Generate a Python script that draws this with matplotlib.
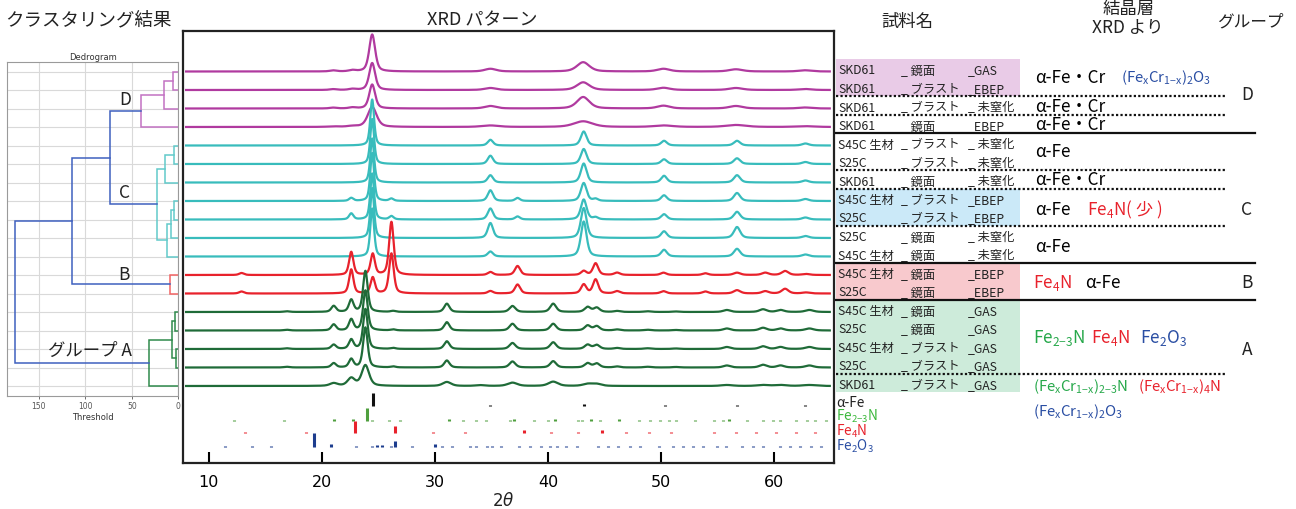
import numpy as np
import matplotlib
matplotlib.use("Agg")
import matplotlib.pyplot as plt
from matplotlib.patches import Rectangle

plt.rcParams['font.family'] = ['Noto Sans CJK JP', 'DejaVu Sans']
plt.rcParams['mathtext.default'] = 'regular'

W, H = 1296, 510

# ---------------- data ----------------
# sample names, top to bottom (same order as the stacked patterns)
MATERIAL = ['SKD61', 'SKD61', 'SKD61', 'SKD61',
            'S45C 生材', 'S25C', 'SKD61', 'S45C 生材', 'S25C', 'S25C', 'S45C 生材',
            'S45C 生材', 'S25C',
            'S45C 生材', 'S25C', 'S45C 生材', 'S25C', 'SKD61']
SURFACE = ['_ 鏡面', '_ ブラスト', '_ ブラスト', '_ 鏡面',
           '_ ブラスト', '_ ブラスト', '_ 鏡面', '_ ブラスト', '_ ブラスト', '_ 鏡面', '_ 鏡面',
           '_ 鏡面', '_ 鏡面',
           '_ 鏡面', '_ 鏡面', '_ ブラスト', '_ ブラスト', '_ ブラスト']
TREATMENT = ['_GAS', '_EBEP', '_ 未窒化', '_EBEP',
             '_ 未窒化', '_ 未窒化', '_ 未窒化', '_EBEP', '_EBEP', '_ 未窒化', '_ 未窒化',
             '_EBEP', '_EBEP',
             '_GAS', '_GAS', '_GAS', '_GAS', '_GAS']
GROUPS = ['D', 'C', 'B', 'A']
GROUP_SIZE = [4, 7, 2, 5]

# peak tables (2theta, FWHM, heights per sample)
D_POS = [21.0, 22.7, 24.45, 34.9, 43.1, 50.2, 56.6, 62.7]
D_WID = [0.7, 0.7, 0.62, 1.2, 1.3, 1.3, 1.4, 1.3]
D_HEIGHT = [[1.0, 1.2, 37, 2.7, 9.3, 2.7, 2.2, 1.2],
            [0.8, 1.0, 27, 2.0, 7.7, 2.2, 2.0, 1.0],
            [0.8, 1.0, 24, 2.5, 11.5, 2.8, 2.5, 1.0],
            [0.5, 0.8, 20, 1.5, 5.7, 1.5, 2.0, 0.8]]
D_BROAD = [1.0, 1.0, 1.0, 1.5]

C_POS = [22.6, 24.45, 26.15, 34.9, 37.3, 43.15, 44.2, 50.25, 56.7, 62.75]
C_WID = [0.45, 0.4, 0.45, 0.55, 0.5, 0.6, 0.5, 0.6, 0.65, 0.7]
C_HEIGHT = [[0, 46, 0, 5.7, 0, 14, 0, 4.7, 4.7, 2],
            [0, 45, 0, 8.3, 0, 15, 0, 4.7, 5.7, 2],
            [0, 44, 0, 7.3, 0, 19, 0, 6.7, 7.3, 2],
            [3, 48, 2.3, 10.7, 3, 18, 2, 5.7, 8, 2],
            [6, 46, 3.3, 11, 3, 20, 2, 5.3, 7.7, 2],
            [0, 50, 0, 15, 0, 30, 0, 6.7, 11, 2],
            [0, 48, 0, 5, 0, 35, 0, 6.7, 7.7, 2]]
C_BROAD = [1.0] * 7

B_POS = [12.9, 22.6, 24.5, 26.15, 34.9, 37.3, 43.15, 44.2, 46.1, 50.2, 53.9, 56.7, 59.2, 60.95, 62.8]
B_WID = [0.5, 0.45, 0.45, 0.48, 0.55, 0.55, 0.55, 0.55, 0.6, 0.6, 0.6, 0.7, 0.7, 0.7, 0.75]
B_HEIGHT = [[2, 23, 21, 53, 3, 9, 4, 11.7, 2.3, 2.3, 1.7, 2.3, 2.3, 4, 1],
            [2, 24, 16, 40, 2.5, 9, 9, 14, 2.3, 2.3, 2, 3.3, 2.3, 4.7, 1]]
B_BROAD = [1.0, 1.0]

A_POS = [16.9, 21.05, 22.6, 23.85, 26.3, 31.05, 34.0, 36.85, 40.45, 43.5, 44.3,
         46.1, 48.8, 51.3, 55.8, 59.0, 60.55, 63.1]
A_WID = [0.6, 0.5, 0.48, 0.48, 0.5, 0.55, 0.6, 0.62, 0.62, 0.62, 0.62,
         0.62, 0.75, 0.75, 0.75, 0.75, 0.75, 0.85]
A_HEIGHT = [[0.7, 6, 12, 41, 1, 8.3, 0, 6, 8.3, 5, 4.3, 1, 0.7, 0.5, 2, 2.7, 2, 2],
            [0.7, 6, 11, 40, 1, 8.3, 0, 6.7, 6.7, 5, 4.3, 1, 0.7, 0.5, 2, 2.7, 2, 2],
            [0.7, 4.3, 9.3, 40, 1, 7.7, 0, 6, 6.7, 4.3, 4, 1, 0.7, 0.5, 2, 2.7, 2, 2],
            [0.7, 4.3, 8.3, 40, 1, 7, 0, 6, 6.3, 4.3, 4, 1, 0.7, 0.5, 2, 2.7, 2, 2],
            [0, 2.7, 7.7, 20.7, 0, 4, 0.8, 3.3, 4.3, 2, 2, 0, 0, 0, 1, 1, 1, 1]]
A_BROAD = [1.0, 1.0, 1.0, 1.0, 1.6]

# reference patterns (stick positions and relative heights)
ALPHA_FE_POS = [24.5, 34.9, 43.2, 50.3, 56.7, 62.7]
ALPHA_FE_H = [13, 1.2, 2.5, 1.2, 1.2, 1.2]
FE23N_POS = [12.2, 16.65, 21.1, 22.75, 24.0, 24.45, 25.9, 26.95, 31.2, 32.45, 33.6, 34.5,
             36.6, 37.0, 38.75, 39.95, 40.6, 42.6, 43.0, 43.8, 44.6, 46.3, 48.05, 49.0,
             49.9, 50.7, 51.35, 53.0, 54.7, 55.45, 56.0, 57.55, 59.0, 59.9, 60.5, 61.95,
             62.85, 63.6, 64.6]
FE23N_H = [1.2, 1.2, 2, 2, 13, 1.2, 1.2, 1.2, 2, 1.2, 1.2, 1.2,
           1.2, 2, 1.2, 1.2, 2, 1.2, 1.2, 2, 1.2, 2, 1.2, 1.2,
           1.2, 1.2, 1.2, 1.2, 1.2, 1.2, 2, 1.2, 1.2, 1.2, 1.2, 1.2,
           1.2, 1.2, 1.2]
FE4N_POS = [13.2, 18.6, 22.9, 26.5, 29.8, 32.65, 37.9, 40.3, 42.6, 44.8, 46.9, 48.95,
            50.9, 54.7, 56.6, 58.35, 60.15, 61.9, 63.6]
FE4N_H = [1.2, 1.2, 12, 7, 1.2, 1.2, 3, 1.2, 1.2, 3, 1.2, 1.2,
          1.2, 1.2, 1.2, 1.2, 1.2, 1.2, 1.2]
FE2O3_POS = [11.4, 13.8, 15.5, 19.3, 20.85, 23.05, 24.4, 24.9, 25.35, 26.15, 26.5, 27.95,
             29.96, 30.6, 31.5, 33.1, 33.6, 34.6, 35.05, 35.8, 37.4, 38.4, 39.35, 40.2,
             40.8, 41.55, 42.55, 44.4, 45.3, 46.2, 47.2, 48.1, 49.8, 51.05, 51.9, 52.8,
             53.7, 54.9, 55.75, 57.1, 58.1, 59.0, 60.5, 61.4, 62.3, 63.2, 64.1]
FE2O3_H = [1.2, 1.2, 1.2, 14, 3, 1.2, 1.2, 1.8, 1.8, 1.2, 6, 1.2,
           3, 1.2, 1.2, 1.2, 1.2, 1.2, 1.2, 1.2, 1.2, 1.2, 1.2, 1.2,
           1.2, 1.2, 1.2, 1.2, 1.2, 1.2, 1.2, 1.2, 1.2, 1.2, 1.2, 1.2,
           1.2, 1.2, 1.2, 1.2, 1.2, 1.2, 1.2, 1.2, 1.2, 1.2, 1.2]

# dendrogram merges: (left node, right node, threshold); leaves are 0..17
LINK_LEFT = [0, 18, 19, 4, 21, 7, 23, 24, 22, 20, 11, 27, 13, 15, 30, 32, 29]
LINK_RIGHT = [1, 2, 3, 5, 6, 8, 9, 10, 25, 26, 12, 28, 14, 16, 31, 17, 33]
LINK_HEIGHT = [6.0, 15.4, 39.8, 5.0, 14.3, 4.6, 7.5, 11.8, 22.9, 73.4, 8.9, 114.6,
               3.5, 2.8, 7.1, 31.8, 175.6]
LINK_GROUP = ['D', 'D', 'D', 'C', 'C', 'C', 'C', 'C', 'C', '-', 'B', '-',
              'A', 'A', 'A', 'A', '-']

# ---------------- styling ----------------
TRACE_COLOR = {'D': '#b03a9f', 'C': '#38bcbc', 'B': '#e8222c', 'A': '#1f6b38'}
DENDRO_COLOR = {'D': '#c272c2', 'C': '#62caca', 'B': '#f26464', 'A': '#2f8a4c', '-': '#3f60bf'}
GREEN_TXT, RED_TXT, BLUE_TXT = '#26a84a', '#e8222c', '#2a4ea3'
STEP = 18.5          # vertical offset between stacked patterns
Y0 = 72.5            # pixel row of the first baseline


def Y(p):
    # convert a pixel row of the 1296x510 canvas to the shared y scale
    return Y0 - p


def rect(x0, y0, x1, y1):
    return [x0 / W, 1 - y1 / H, (x1 - x0) / W, (y1 - y0) / H]


def profile(x, pos, wid, hts, broad):
    y = np.zeros_like(x)
    for p, w, h in zip(pos, wid, hts):
        w = w * broad
        d = (x - p) / w
        y += h * (0.5 / (1 + 4 * d ** 2) + 0.5 * np.exp(-4 * np.log(2) * d ** 2))
    return y


fig = plt.figure(figsize=(W / 100, H / 100), dpi=100)

# ---------------- dendrogram ----------------
axd = fig.add_axes(rect(7.3, 62.7, 178.3, 397.3))
n_leaf = len(MATERIAL)
node_pos = {i: -i * STEP for i in range(n_leaf)}
node_h = {i: 0.0 for i in range(n_leaf)}
for k, (a, b, h, g) in enumerate(zip(LINK_LEFT, LINK_RIGHT, LINK_HEIGHT, LINK_GROUP)):
    ya, yb = node_pos[a], node_pos[b]
    axd.plot([node_h[a], h, h, node_h[b]], [ya, ya, yb, yb],
             color=DENDRO_COLOR[g], lw=1.1, solid_joinstyle='miter')
    node_pos[n_leaf + k] = (ya + yb) / 2
    node_h[n_leaf + k] = h
axd.set_xlim(184, 0)
axd.set_ylim(Y(397.3), Y(62.7))
axd.set_xticks([150, 100, 50, 0])
axd.set_yticks([-i * STEP for i in range(n_leaf)])
axd.set_yticklabels([])
axd.grid(True, color='#d9d9d9', lw=0.8)
axd.tick_params(axis='y', length=0)
axd.tick_params(axis='x', length=2, width=0.6, colors='#555555', labelsize=5.5, pad=1.5)
for lab in axd.get_xticklabels():
    lab.set_fontfamily('DejaVu Sans')
for s in axd.spines.values():
    s.set_color('#9a9a9a')
    s.set_linewidth(0.8)
axd.set_title('Dedrogram', fontsize=6, color='#333333', pad=2, fontfamily='DejaVu Sans')
axd.set_xlabel('Threshold', fontsize=6, color='#333333', labelpad=1, fontfamily='DejaVu Sans')

# ---------------- XRD patterns ----------------
ax = fig.add_axes(rect(182.7, 31.7, 834.3, 464))
tt = np.linspace(8.0, 64.9, 4000)
tables = {'D': (D_POS, D_WID, D_HEIGHT, D_BROAD), 'C': (C_POS, C_WID, C_HEIGHT, C_BROAD),
          'B': (B_POS, B_WID, B_HEIGHT, B_BROAD), 'A': (A_POS, A_WID, A_HEIGHT, A_BROAD)}
row = 0
for g, n in zip(GROUPS, GROUP_SIZE):
    pos, wid, hts, broad = tables[g]
    for j in range(n):
        inten = profile(tt, pos, wid, hts[j], broad[j])
        ax.plot(tt, inten - row * STEP, color=TRACE_COLOR[g], lw=1.6, zorder=3 + row)
        row += 1

sticks = [(ALPHA_FE_POS, ALPHA_FE_H, '#111111', 407),
          (FE23N_POS, FE23N_H, '#4f9f3e', 421.7),
          (FE4N_POS, FE4N_H, '#e8222c', 434),
          (FE2O3_POS, FE2O3_H, '#1d3d8e', 447.7)]
for pos, hh, col, base in sticks:
    b = Y(base)
    ax.vlines(pos, b, b + np.array(hh), colors=col, lw=2.2)

ax.set_xlim(7.7, 65.3)
ax.set_ylim(Y(464), Y(31.7))
ax.set_yticks([])
ax.set_xticks([10, 20, 30, 40, 50, 60])
ax.tick_params(axis='x', direction='in', length=8, width=1.5, labelsize=11.5, pad=8)
for lab in ax.get_xticklabels():
    lab.set_fontfamily('DejaVu Sans')
for s in ax.spines.values():
    s.set_linewidth(1.6)
    s.set_color('#222222')

# ---------------- overlay: labels and table ----------------
ov = fig.add_axes([0, 0, 1, 1])
ov.set_xlim(0, W)
ov.set_ylim(Y(H), Y(0))
ov.axis('off')
ov.patch.set_visible(False)


def bound(i):
    # boundary between label rows i and i+1
    return -(i + 0.5) * STEP + 3


for r0, r1, col in [(0, 1, '#e9cbe7'), (7, 8, '#cbe9f8'), (11, 12, '#f8c9cd'), (13, 17, '#cdebda')]:
    ov.add_patch(Rectangle((836, bound(r1)), 184, bound(r0 - 1) - bound(r1),
                           facecolor=col, edgecolor='none', zorder=1))

for i in range(n_leaf):
    yy = -i * STEP + 1.5
    ov.text(838, yy, MATERIAL[i], fontsize=8.8, va='center', color='#222222', zorder=3)
    ov.text(901, yy, SURFACE[i], fontsize=8.8, va='center', color='#222222', zorder=3)
    ov.text(968, yy, TREATMENT[i], fontsize=8.8, va='center', color='#222222', zorder=3)

for i in [1, 2, 5, 6, 8, 16]:
    ov.plot([836, 1226], [bound(i)] * 2, color='#111111', lw=1.6, ls=(0, (1, 1)), zorder=4)
for i in [3, 10, 12]:
    ov.plot([836, 1255], [bound(i)] * 2, color='#111111', lw=1.6, zorder=4)

FeCr = '(Fe$_x$Cr$_{1{-}x}$)'
crystal = [
    (78, [(1035, 'α-Fe・Cr', 'black', 12.3), (1121, FeCr + '$_2$O$_3$', BLUE_TXT, 10.8)]),
    (107, [(1035, 'α-Fe・Cr', 'black', 12.3)]),
    (125, [(1035, 'α-Fe・Cr', 'black', 12.3)]),
    (152, [(1035, 'α-Fe', 'black', 12.3)]),
    (180, [(1035, 'α-Fe・Cr', 'black', 12.3)]),
    (210, [(1035, 'α-Fe', 'black', 12.3), (1087, 'Fe$_4$N( 少 )', RED_TXT, 12.3)]),
    (247, [(1035, 'α-Fe', 'black', 12.3)]),
    (283, [(1033, 'Fe$_4$N', RED_TXT, 12.3), (1085, 'α-Fe', 'black', 12.3)]),
    (338, [(1033, 'Fe$_{2{-}3}$N', GREEN_TXT, 12.3), (1091, 'Fe$_4$N', RED_TXT, 12.3),
           (1140, 'Fe$_2$O$_3$', BLUE_TXT, 12.3)]),
    (387, [(1033, FeCr + '$_{2{-}3}$N', GREEN_TXT, 10.8), (1138, FeCr + '$_4$N', RED_TXT, 10.8)]),
    (412, [(1033, FeCr + '$_2$O$_3$', BLUE_TXT, 10.8)]),
]
for py, items in crystal:
    for x, s, c, fs in items:
        ov.text(x, Y(py), s, fontsize=fs, va='center', color=c, zorder=3)

for py, s in [(95, 'D'), (210, 'C'), (283, 'B'), (350, 'A')]:
    ov.text(1247, Y(py), s, fontsize=12.5, va='center', ha='center', color='#222222')

for py, s, c in [(403, 'α-Fe', '#222222'), (416.5, 'Fe$_{2{-}3}$N', '#3cb83c'),
                 (431.5, 'Fe$_4$N', RED_TXT), (446.5, 'Fe$_2$O$_3$', BLUE_TXT)]:
    ov.text(836, Y(py), s, fontsize=9.8, va='center', color=c, zorder=3)

for x, py, s in [(125, 100, 'D'), (124, 193, 'C'), (124, 275, 'B'), (90, 351, 'グループ A')]:
    ov.text(x, Y(py), s, fontsize=12.5, va='center', ha='center', color='#222222')

for x, py, s, fs in [(88, 20, 'クラスタリング結果', 13.3), (482, 20, 'XRD パターン', 13),
                     (907, 22, '試料名', 12.5), (1129, 9, '結晶層', 12.5),
                     (1128, 28, 'XRD より', 12.5), (1250, 22, 'グループ', 12)]:
    ov.text(x, Y(py), s, fontsize=fs, va='center', ha='center', color='#222222')

ov.text(503, Y(501), r'2$\mathit{\theta}$', fontsize=12, va='center', ha='center',
        fontfamily='DejaVu Sans', color='#222222')

fig.savefig('out.png', dpi=100)
